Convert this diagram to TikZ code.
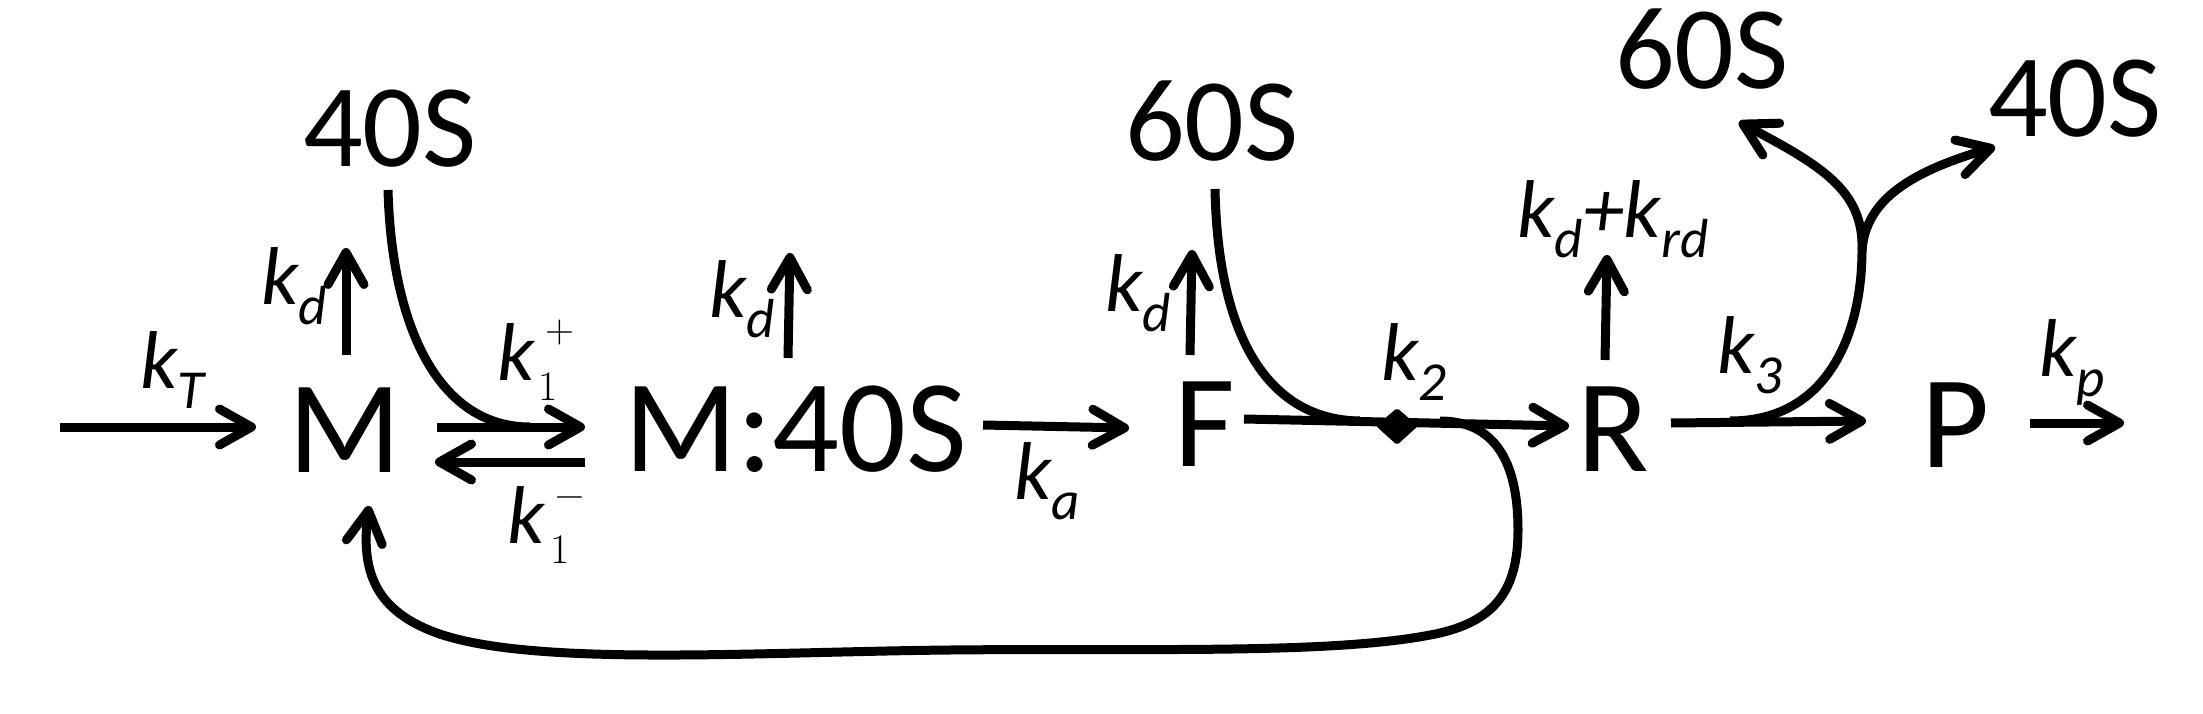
\documentclass[tikz,border=0pt]{standalone}
\usepackage{fontspec}
\newfontfamily\carl{Carlito}
\usetikzlibrary{arrows.meta}
\newcommand\kk[1]{k\raisebox{-20pt}{\fontsize{55}{60}\selectfont #1}}
\newcommand\kone[4]{k\rlap{\kern#3\raisebox{-20pt}{\fontsize{42}{46}\rmfamily\upshape 1}}\kern#2\raisebox{#4}{\fontsize{40}{44}\rmfamily\upshape #1}}
\begin{document}
\begin{tikzpicture}[x=1pt,y=-1pt,line width=9pt,
  arr/.style={-{Straight Barb[length=32pt,width=36pt,round]}},
  mainnode/.style={font=\carl\fontsize{132}{140}\selectfont,inner sep=0,anchor=base},
  subnode/.style={font=\carl\fontsize{118}{124}\selectfont,inner sep=0,anchor=base},
  klab/.style={font=\carl\fontsize{82}{90}\selectfont\itshape,inner sep=0,anchor=base west}]
\fill[white] (0,0) rectangle (2203,714);
\useasboundingbox (0,0) rectangle (2203,714);
% species
\node[mainnode] (M) at (345,472) {M};
\node[mainnode] (MS) at (796,471) {M:40S};
\node[mainnode] (F) at (1205,466) {F};
\node[mainnode] (R) at (1613,471) {R};
\node[mainnode] (P) at (1956,467) {P};
\node[subnode] (S40a) at (390,167) {40S};
\node[subnode] (S60a) at (1212,161) {60S};
\node[subnode] (S60b) at (1702,89) {60S};
\node[subnode] (S40b) at (2075,137) {40S};
% rate labels
\node[klab] (lT) at (136,388) {\kk{T}};
\node[klab] (ldM) at (257,304) {\kk{d}};
\node[klab] (l1p) at (493,380) {\kone{+}{11pt}{4pt}{38pt}};
\node[klab] (l1m) at (503,543) {\kone{\char"2212}{11pt}{6pt}{36pt}};
\node[klab] (ldMS) at (705,317) {\kk{d}};
\node[klab] (la) at (1010,499) {\kk{a}};
\node[klab] (ldF) at (1101,311) {\kk{d}};
\node[klab] (l2) at (1377,380) {\kk{2}};
\node[klab] (ldR) at (1513,237) {\kk{d}+\kk{rd}};
\node[klab] (l3) at (1713,373) {\kk{3}};
\node[klab] (lp) at (2035,376) {\kk{p}};
% connector end points
\coordinate (kTs) at (60,427);   \coordinate (kTe) at (256,427);
\coordinate (dMs) at (346,355);  \coordinate (dMe) at (346,248);
\coordinate (p1s) at (437,427);  \coordinate (p1e) at (585,427);
\coordinate (m1s) at (585,462);  \coordinate (m1e) at (435,462);
\coordinate (dSs) at (788,358);  \coordinate (dSe) at (790,253);
\coordinate (kas) at (983,425);  \coordinate (kae) at (1129,428);
\coordinate (dFs) at (1190,355); \coordinate (dFe) at (1192,250);
\coordinate (FRs) at (1244,419); \coordinate (FRe) at (1569,426);
\coordinate (dRs) at (1605,360); \coordinate (dRe) at (1607,255);
\coordinate (RPs) at (1671,423); \coordinate (RPe) at (1866,421);
\coordinate (kps) at (2030,423); \coordinate (kpe) at (2124,423);
\coordinate (c40s) at (388,190); \coordinate (c40e) at (530,427);
\coordinate (c60s) at (1215,189); \coordinate (c60e) at (1360,421);
\coordinate (loops) at (1440,421); \coordinate (loope) at (369,506);
\coordinate (k3s) at (1730,421); \coordinate (br) at (1862,250);
\coordinate (t60) at (1739,122); \coordinate (t40) at (1995,147);
% straight arrows
\draw[arr] (kTs) -- (kTe);
\draw[arr] (dMs) -- (dMe);
\draw[arr] (p1s) -- (p1e);
\draw[arr] (m1s) -- (m1e);
\draw[arr] (dSs) -- (dSe);
\draw[arr] (kas) -- (kae);
\draw[arr] (dFs) -- (dFe);
\draw[arr] (FRs) -- (FRe);
\draw[arr] (dRs) -- (dRe);
\draw[arr] (RPs) -- (RPe);
\draw[arr] (kps) -- (kpe);
% curves
\draw (c40s) .. controls (392,330) and (440,427) .. (c40e);
\draw (c60s) .. controls (1218,340) and (1270,420) .. (c60e);
\draw[arr] (loops) .. controls (1500,421) and (1518,470) .. (1518,530)
  .. controls (1518,590) and (1495,620) .. (1440,633)
  .. controls (1340,655) and (1150,648) .. (950,650)
  .. controls (750,652) and (520,668) .. (429,630)
  .. controls (379,609) and (360,575) .. (loope);
\draw (k3s) .. controls (1830,421) and (1862,330) .. (br);
\draw[arr] (br) .. controls (1864,190) and (1820,165) .. (t60);
\draw[arr] (br) .. controls (1866,200) and (1910,172) .. (t40);
% diamond
\fill[rounded corners=2pt] (1397,408) -- (1418,426) -- (1397,445) -- (1376,426) -- cycle;
\end{tikzpicture}
\end{document}
